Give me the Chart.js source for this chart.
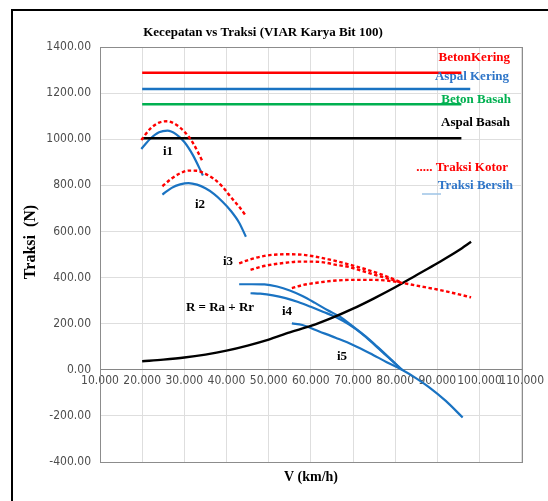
<!DOCTYPE html>
<html>
<head>
<meta charset="utf-8">
<title>Kecepatan vs Traksi</title>
<script src="https://cdn.jsdelivr.net/npm/chart.js@4.4.1/dist/chart.umd.min.js"></script>
<style>
  html, body { margin: 0; padding: 0; background: #fff; }
  #wrap { width: 548px; height: 501px; }
</style>
</head>
<body>
<div id="wrap"><canvas id="myChart" width="548" height="501"></canvas></div>
<script>
// batas traksi (gaya gesek) per permukaan jalan
var batasX = [20, 95.7];
var batasXAspalKering = [20, 97.8];
var betonKering = [1288, 1288];
var aspalKering = [1218, 1218];
var betonBasah = [1152, 1152];
var aspalBasah = [1004, 1004];

// gigi 1..5 : kecepatan (km/h), traksi kotor & traksi bersih (N)
var speedI1 = [19.8, 22, 24, 26, 28, 30, 32, 34.4];
var kotorI1 = [997, 1047, 1072, 1078, 1064, 1033, 985, 901];
var bersihI1 = [958, 1003, 1030, 1037, 1022, 988, 932, 843];

var speedI2 = [24.8, 27, 29, 31, 33, 35, 37, 39, 41, 43, 44.6];
var kotorI2 = [796, 830, 852, 864, 863, 850, 828, 795, 750, 707, 668];
var bersihI2 = [760, 789, 804, 810, 803, 787, 763, 730, 690, 638, 577];

var speedI3 = [43, 46, 49, 52, 55, 58, 61, 64, 67, 70, 73, 76, 79, 81.6];
var kotorI3 = [462, 481, 494, 500, 501, 499, 491, 480, 467, 452, 436, 418, 398, 377];
var bersihI3 = [371, 371, 370, 361, 344, 320, 290, 258, 229, 188, 145, 96, 45, 0];

var speedI4 = [45.7, 48, 51, 54, 57, 60, 63, 66, 69, 72, 75, 78, 81.6];
var kotorI4 = [433, 446, 457, 464, 469, 469, 466, 455, 446, 430, 413, 397, 377];
var bersihI4 = [332, 330, 323, 311, 294, 273, 251, 228, 197, 158, 110, 60, 0];

var speedKotorI5 = [55.5, 58, 62, 66, 70, 74, 78, 81.6, 86, 90, 94, 98];
var kotorI5 = [354, 367, 379, 387, 390, 390, 387, 377, 362, 348, 332, 314];
var speedBersihI5 = [55.5, 58, 62, 66, 70, 74, 78, 81.6, 85, 88, 92, 96];
var bersihI5 = [201, 194, 166, 138, 108, 72, 33, 0, -37, -75, -135, -207];

// hambatan total R = Ra + Rr
var speedR = [20, 25, 30, 35, 40, 45, 50, 55, 60, 65, 70, 75, 80, 85, 90, 95, 98];
var hambatanR = [37, 44, 53, 66, 83, 105, 131, 162, 190, 225, 265, 310, 358, 410, 462, 517, 555];

var xTicks = [10, 20, 30, 40, 50, 60, 70, 80, 90, 100, 110];

var RED = '#ff0000', BLUE = '#1a73c2', GREEN = '#00b050';

function pts(xs, ys) {
    return xs.map(function (x, i) { return {x: x, y: ys[i]}; });
}
function solid(xs, ys, color, w) {
    return {data: pts(xs, ys), borderColor: color, borderWidth: w || 2.2,
        showLine: true, pointRadius: 0, cubicInterpolationMode: 'monotone', fill: false};
}
function dashed(xs, ys) {
    var d = solid(xs, ys, RED, 2.4);
    d.borderDash = [3.5, 2.5];
    return d;
}

var textPlugin = {
    id: 'teks',
    beforeDraw: function (chart) {
        var c = chart.ctx;
        c.save();
        c.fillStyle = '#fff';
        c.fillRect(0, 0, chart.width, chart.height);
        c.restore();
    },
    beforeDatasetsDraw: function (chart) {
        var a = chart.chartArea, c = chart.ctx;
        c.save();
        c.strokeStyle = '#8c8c8c';
        c.lineWidth = 1;
        c.strokeRect(Math.round(a.left) + 0.5, Math.round(a.top) + 0.5,
            Math.round(a.right - a.left), Math.round(a.bottom - a.top));
        c.restore();
    },
    afterDraw: function (chart) {
        var c = chart.ctx;
        c.save();
        c.textBaseline = 'middle';
        var serif = '"Liberation Serif", "Times New Roman", serif';

        c.font = 'bold 13px ' + serif;
        c.fillStyle = '#000';
        c.textAlign = 'center';
        c.fillText('Kecepatan vs Traksi (VIAR Karya Bit 100)', 263, 33);

        c.textAlign = 'right';
        c.fillStyle = RED; c.fillText('BetonKering', 510, 58);
        c.fillStyle = '#2e75c8'; c.fillText('Aspal Kering', 509, 77);
        c.fillStyle = GREEN; c.fillText('Beton Basah', 511, 100);
        c.fillStyle = '#000'; c.fillText('Aspal Basah', 510, 123);
        c.fillStyle = RED; c.fillText('..... Traksi Kotor', 508, 168);
        c.fillStyle = '#2e75c8'; c.fillText('Traksi Bersih', 513, 186);
        c.strokeStyle = '#9dc3e6';
        c.lineWidth = 1.5;
        c.beginPath(); c.moveTo(422, 194); c.lineTo(441, 194); c.stroke();

        c.fillStyle = '#000';
        c.textAlign = 'center';
        c.fillText('i1', 168, 152);
        c.fillText('i2', 200, 205);
        c.fillText('i3', 228, 262);
        c.fillText('i4', 287, 312);
        c.fillText('i5', 342, 357);
        c.fillText('R = Ra + Rr', 220, 308);

        c.font = 'bold 14px ' + serif;
        c.fillText('V (km/h)', 311, 477);
        c.font = 'bold 16px ' + serif;
        c.translate(31, 242);
        c.rotate(-Math.PI / 2);
        c.fillText('Traksi  (N)', 0, 0);
        c.restore();

        // bingkai luar
        c.save();
        c.strokeStyle = '#000';
        c.lineWidth = 2;
        c.beginPath();
        c.moveTo(12, 501); c.lineTo(12, 10); c.lineTo(548, 10);
        c.stroke();
        c.restore();
    }
};

var tickFont = {family: '"Liberation Sans Narrow", "DejaVu Sans Condensed", sans-serif', size: 12};

var ctx = document.getElementById('myChart');
var chart = new Chart(ctx, {
    type: 'scatter',
    data: {
        datasets: [
            solid(batasX, betonKering, RED, 2.4),
            solid(batasXAspalKering, aspalKering, BLUE, 2.4),
            solid(batasX, betonBasah, GREEN, 2.4),
            dashed(speedI1, kotorI1),
            dashed(speedI2, kotorI2),
            dashed(speedI3, kotorI3),
            dashed(speedI4, kotorI4),
            dashed(speedKotorI5, kotorI5),
            solid(batasX, aspalBasah, '#000', 2.4),
            solid(speedR, hambatanR, '#000', 2.4),
            solid(speedI1, bersihI1, BLUE),
            solid(speedI2, bersihI2, BLUE),
            solid(speedI3, bersihI3, BLUE),
            solid(speedI4, bersihI4, BLUE),
            solid(speedBersihI5, bersihI5, BLUE)
        ]
    },
    options: {
        responsive: false,
        animation: false,
        devicePixelRatio: 1,
        layout: {padding: {left: 0, top: 47, right: 26, bottom: 39}},
        plugins: {legend: {display: false}, tooltip: {enabled: false}},
        scales: {
            x: {
                type: 'linear',
                position: {y: 0},
                min: 10,
                max: 110,
                afterBuildTicks: function (s) {
                    s.ticks = xTicks.map(function (v) { return {value: v}; });
                },
                ticks: {
                    callback: function (v) { return Number(v).toFixed(3); },
                    font: tickFont,
                    color: '#4d4d4d',
                    padding: 4,
                    maxRotation: 0,
                    autoSkip: false
                },
                grid: {color: '#dedede', drawTicks: false},
                border: {color: '#868686', width: 1}
            },
            y: {
                min: -400,
                max: 1400,
                afterFit: function (s) { s.width = 100; },
                ticks: {
                    stepSize: 200,
                    callback: function (v) { return Number(v).toFixed(2); },
                    font: tickFont,
                    color: '#4d4d4d',
                    padding: 9
                },
                grid: {color: '#dedede', drawTicks: false},
                border: {color: '#8c8c8c', width: 1}
            }
        }
    },
    plugins: [textPlugin]
});
</script>
</body>
</html>
